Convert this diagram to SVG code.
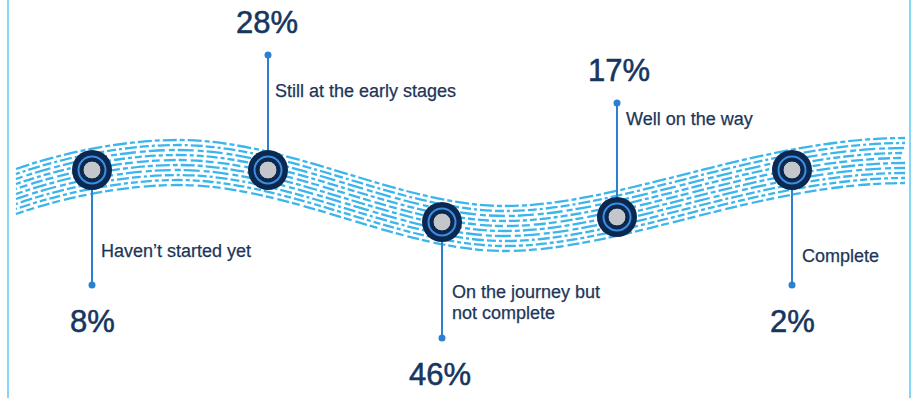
<svg xmlns="http://www.w3.org/2000/svg" xmlns:xlink="http://www.w3.org/1999/xlink" width="914" height="398" viewBox="0 0 914 398">
  <style>
    .border { stroke: #5cc8f2; stroke-width: 1.5; fill: none; }
    .strand { fill: none; stroke: #3cb5ec; stroke-width: 2.3; stroke-linecap: butt; }
    .d1 { stroke-dasharray: 14 3 5 3; }
    .d2 { stroke-dasharray: 9 3 3 3 12 3; }
    .d3 { stroke-dasharray: 16 4 6 3; }
    .d4 { stroke-dasharray: 7 3 11 3 4 3; }
    .d5 { stroke-dasharray: 12 3 8 4; }
    .halo { fill: #0b2850; }
    .ring { fill: none; stroke: #3d8ee0; stroke-width: 2; }
    .core { fill: #c3c6ca; stroke: #0a2247; stroke-width: 1; }
    .leader { stroke: #2b80d2; stroke-width: 2; fill: none; }
    .tip { fill: #2b80d2; }
    .label { font-family: "Liberation Sans", Arial, sans-serif; font-size: 18px; fill: #1c3659; stroke: #1c3659; stroke-width: 0.25; }
    .pct { font-family: "Liberation Sans", Arial, sans-serif; font-size: 31px; fill: #15365f; stroke: #15365f; stroke-width: 0.55; }
  </style>
  <defs>
    <path id="wave" d="M16,191 C70,172 130,162 178,162 C290,162 400,228 505,228 C620,228 760,160 905,160"/>
  </defs>

  <!-- frame edges -->
  <line class="border" x1="8" y1="0" x2="8" y2="398"/>
  <line class="border" x1="910" y1="0" x2="910" y2="398"/>

  <!-- dashed wave band -->
  <g id="band">
    <use xlink:href="#wave" href="#wave" class="strand d1" transform="translate(0,-22)"/>
    <use xlink:href="#wave" href="#wave" class="strand d2" transform="translate(0,-17)" stroke-dashoffset="5"/>
    <use xlink:href="#wave" href="#wave" class="strand d3" transform="translate(0,-12)" stroke-dashoffset="9"/>
    <use xlink:href="#wave" href="#wave" class="strand d4" transform="translate(0,-7)" stroke-dashoffset="2"/>
    <use xlink:href="#wave" href="#wave" class="strand d5" transform="translate(0,-2)" stroke-dashoffset="11"/>
    <use xlink:href="#wave" href="#wave" class="strand d1" transform="translate(0,3)" stroke-dashoffset="7"/>
    <use xlink:href="#wave" href="#wave" class="strand d3" transform="translate(0,8)" stroke-dashoffset="3"/>
    <use xlink:href="#wave" href="#wave" class="strand d2" transform="translate(0,13)" stroke-dashoffset="13"/>
    <use xlink:href="#wave" href="#wave" class="strand d4" transform="translate(0,18)" stroke-dashoffset="6"/>
    <use xlink:href="#wave" href="#wave" class="strand d5" transform="translate(0,23)" stroke-dashoffset="4"/>
  </g>

  <!-- leader lines from each stage marker -->
  <g id="connectors">
    <line class="leader" x1="92" y1="170" x2="92" y2="285"/>
    <circle class="tip" cx="92" cy="285" r="3.5"/>
    <line class="leader" x1="268" y1="170" x2="268" y2="55"/>
    <circle class="tip" cx="268" cy="55" r="3.5"/>
    <line class="leader" x1="442" y1="222" x2="442" y2="338"/>
    <circle class="tip" cx="442" cy="338" r="3.5"/>
    <line class="leader" x1="617" y1="217" x2="617" y2="103"/>
    <circle class="tip" cx="617" cy="103" r="3.5"/>
    <line class="leader" x1="792" y1="170" x2="792" y2="285"/>
    <circle class="tip" cx="792" cy="285" r="3.5"/>
  </g>

  <g id="stage-not-started">
    <circle class="halo" cx="92" cy="170" r="20"/>
    <circle class="ring" cx="92" cy="170" r="13.5"/>
    <circle class="core" cx="92" cy="170" r="9"/>
    <text class="label" x="101" y="257">Haven’t started yet</text>
    <text class="pct" x="70" y="332">8%</text>
  </g>

  <g id="stage-early">
    <circle class="halo" cx="268" cy="170" r="20"/>
    <circle class="ring" cx="268" cy="170" r="13.5"/>
    <circle class="core" cx="268" cy="170" r="9"/>
    <text class="label" x="275" y="97">Still at the early stages</text>
    <text class="pct" x="236" y="33">28%</text>
  </g>

  <g id="stage-journey">
    <circle class="halo" cx="442" cy="222" r="20"/>
    <circle class="ring" cx="442" cy="222" r="13.5"/>
    <circle class="core" cx="442" cy="222" r="9"/>
    <text class="label" x="452" y="298">On the journey but</text>
    <text class="label" x="452" y="319">not complete</text>
    <text class="pct" x="409" y="385">46%</text>
  </g>

  <g id="stage-well-on">
    <circle class="halo" cx="617" cy="217" r="20"/>
    <circle class="ring" cx="617" cy="217" r="13.5"/>
    <circle class="core" cx="617" cy="217" r="9"/>
    <text class="label" x="626" y="125">Well on the way</text>
    <text class="pct" x="588" y="81">17%</text>
  </g>

  <g id="stage-complete">
    <circle class="halo" cx="792" cy="170" r="20"/>
    <circle class="ring" cx="792" cy="170" r="13.5"/>
    <circle class="core" cx="792" cy="170" r="9"/>
    <text class="label" x="802" y="262">Complete</text>
    <text class="pct" x="770" y="332">2%</text>
  </g>
</svg>
